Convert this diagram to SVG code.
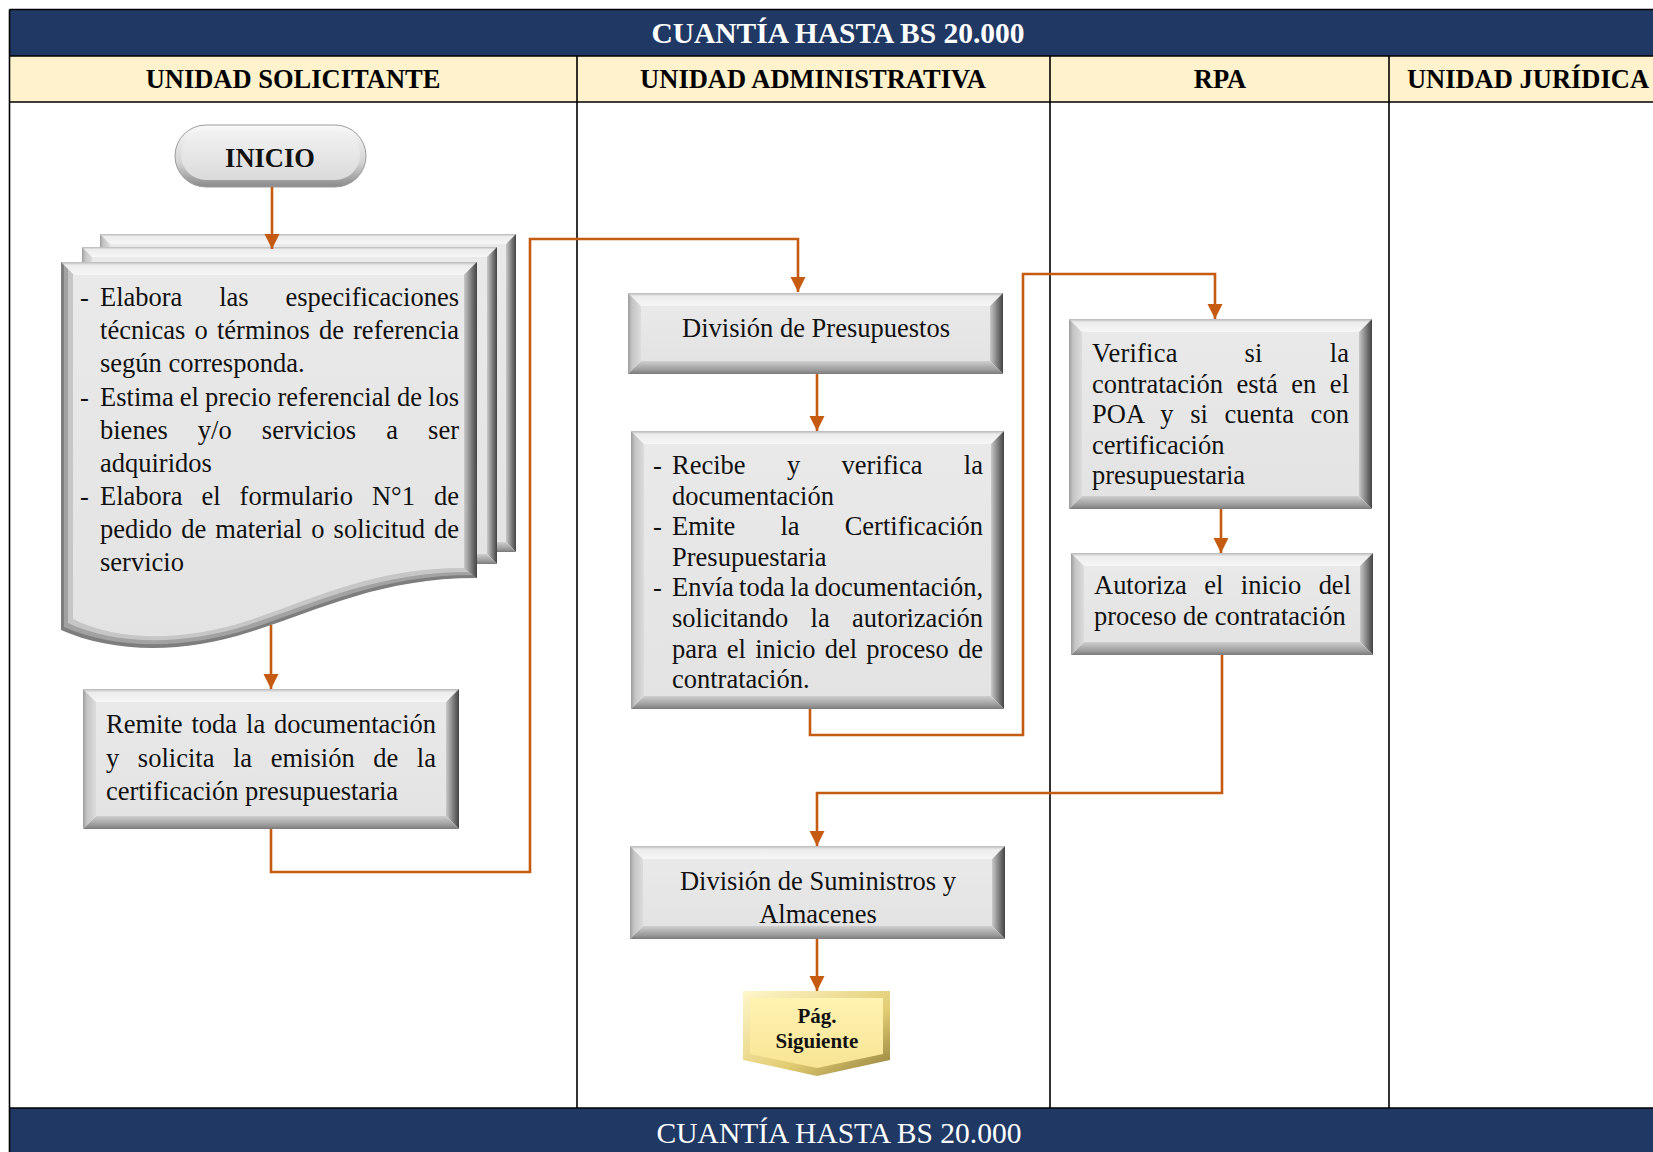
<svg xmlns="http://www.w3.org/2000/svg" width="1653" height="1152" viewBox="0 0 1653 1152">
<defs>
<style>
.grid{stroke:#000;stroke-width:1.6;fill:none}
.band{fill:#203864}
.hdr{fill:#FFF2CC}
.title{font-family:"Liberation Serif","Times New Roman",serif;font-size:29.5px;fill:#fff;text-anchor:middle}
.hl{font-family:"Liberation Serif","Times New Roman",serif;font-size:26.5px;font-weight:bold;fill:#000;text-anchor:middle}
.t{font-family:"Liberation Serif","Times New Roman",serif;font-size:26.5px;fill:#111}
.c{text-anchor:middle}
.b{font-weight:bold}
.conn{fill:none;stroke:#C55A11;stroke-width:2.6}
.top{fill:url(#gTop)}
.left{fill:url(#gLeft)}
.right{fill:url(#gRight)}
.bot{fill:url(#gBot)}
.face{fill:url(#gFace)}
</style>
<linearGradient id="gTop" x1="0" y1="0" x2="0" y2="1"><stop offset="0" stop-color="#b8b8b8"/><stop offset="0.25" stop-color="#ececec"/><stop offset="1" stop-color="#f6f6f6"/></linearGradient>
<linearGradient id="gLeft" x1="0" y1="0" x2="1" y2="0"><stop offset="0" stop-color="#9c9c9c"/><stop offset="0.3" stop-color="#c4c4c4"/><stop offset="1" stop-color="#dcdcdc"/></linearGradient>
<linearGradient id="gRight" x1="0" y1="0" x2="1" y2="0"><stop offset="0" stop-color="#c9c9c9"/><stop offset="0.7" stop-color="#6a6a6a"/><stop offset="1" stop-color="#444"/></linearGradient>
<linearGradient id="gBot" x1="0" y1="0" x2="0" y2="1"><stop offset="0" stop-color="#cfcfcf"/><stop offset="0.7" stop-color="#9a9a9a"/><stop offset="1" stop-color="#7a7a7a"/></linearGradient>
<linearGradient id="gFace" x1="0" y1="0" x2="0" y2="1"><stop offset="0" stop-color="#e9e9e9"/><stop offset="1" stop-color="#e3e3e3"/></linearGradient>
<linearGradient id="gPill" x1="0" y1="0" x2="0" y2="1"><stop offset="0" stop-color="#fafafa"/><stop offset="0.6" stop-color="#d4d4d4"/><stop offset="1" stop-color="#8a8a8a"/></linearGradient>
<linearGradient id="gPillFace" x1="0" y1="0" x2="0" y2="1"><stop offset="0" stop-color="#f2f2f2"/><stop offset="1" stop-color="#dadada"/></linearGradient>
<linearGradient id="gYEdge" x1="0" y1="0" x2="1" y2="1"><stop offset="0" stop-color="#fff7cc"/><stop offset="0.6" stop-color="#e2cc72"/><stop offset="1" stop-color="#8f7d3a"/></linearGradient>
<linearGradient id="gYFace" x1="0" y1="0" x2="0" y2="1"><stop offset="0" stop-color="#fff3b2"/><stop offset="1" stop-color="#f8e493"/></linearGradient>
<marker id="arr" markerUnits="userSpaceOnUse" markerWidth="16" markerHeight="16" viewBox="0 0 16 16" refX="15" refY="8" orient="auto"><path d="M0,0.5 L15,8 L0,15.5 Z" fill="#C55A11"/></marker>
</defs>
<rect width="1653" height="1152" fill="#fff"/>

<g id="table">
<rect class="band" x="9.5" y="9.5" width="1650" height="46.5"/>
<rect class="hdr" x="9.5" y="56" width="1650" height="46"/>
<rect class="band" x="9.5" y="1108" width="1650" height="50"/>
<path class="grid" d="M9.5,9.5 H1660 M9.5,9.5 V1152 M9.5,56 H1660 M9.5,102 H1660 M9.5,1108 H1660 M577,56 V1108 M1050,56 V1108 M1389,56 V1108"/>
<text class="title b" x="838" y="43">CUANTÍA HASTA BS 20.000</text>
<text class="hl" x="293" y="88">UNIDAD SOLICITANTE</text>
<text class="hl" x="813" y="88">UNIDAD ADMINISTRATIVA</text>
<text class="hl" x="1220" y="88">RPA</text>
<text class="hl" x="1528" y="88">UNIDAD JURÍDICA</text>
<text class="title" x="839" y="1143">CUANTÍA HASTA BS 20.000</text>
</g>

<g id="inicio">
<rect x="175" y="125" width="191" height="62" rx="31" fill="url(#gPill)" stroke="#9c9c9c" stroke-width="1"/>
<rect x="181" y="130" width="179" height="50" rx="25" fill="url(#gPillFace)"/>
<text class="t b c" x="270" y="167">INICIO</text>
</g>

<g id="documentos">
<polygon class="top" points="100,234 516,234 506,244 110,244"/>
<polygon class="left" points="100,234 110,244 110,542 100,552"/>
<polygon class="right" points="516,234 516,552 506,542 506,244"/>
<polygon class="bot" points="100,552 516,552 506,542 110,542"/>
<rect class="face" x="110" y="244" width="396" height="298"/>
<polygon class="top" points="82,247 497,247 487,257 92,257"/>
<polygon class="left" points="82,247 92,257 92,554 82,564"/>
<polygon class="right" points="497,247 497,564 487,554 487,257"/>
<polygon class="bot" points="82,564 497,564 487,554 92,554"/>
<rect class="face" x="92" y="257" width="395" height="297"/>
<path d="M61,262 H477 V578 C380,578 320,610 250,632 C180,655 110,652 61,630 Z" fill="#7e7e7e"/>
<path d="M64,265 H474 V575 C378,575 318,607 249,629 C180,651 111,648 64,627 Z" fill="#a2a2a2"/>
<path d="M68,269 H470 V572 C376,572 316,603 248,625 C180,647 112,644 68,623 Z" fill="#c6c6c6"/>
<polygon class="top" points="61,262 477,262 464,275 74,275"/>
<polygon class="right" points="477,262 477,578 464,568 464,275"/>
<path class="face" d="M73,275 H464 V568 C372,568 314,599 247,621 C179,643 114,640 73,619 Z"/>
<text class="t" x="80" y="306">-</text>
<text class="t" x="100" y="306" word-spacing="30.3" textLength="359" lengthAdjust="spacing">Elabora las especificaciones</text>
<text class="t" x="100" y="339" word-spacing="2.5" textLength="359" lengthAdjust="spacing">técnicas o términos de referencia</text>
<text class="t" x="100" y="372">según corresponda.</text>
<text class="t" x="80" y="406">-</text>
<text class="t" x="100" y="406" word-spacing="-0.5" textLength="359" lengthAdjust="spacing">Estima el precio referencial de los</text>
<text class="t" x="100" y="439" word-spacing="23.5" textLength="359" lengthAdjust="spacing">bienes y/o servicios a ser</text>
<text class="t" x="100" y="472">adquiridos</text>
<text class="t" x="80" y="505">-</text>
<text class="t" x="100" y="505" word-spacing="12.4" textLength="359" lengthAdjust="spacing">Elabora el formulario N°1 de</text>
<text class="t" x="100" y="538" word-spacing="2.5" textLength="359" lengthAdjust="spacing">pedido de material o solicitud de</text>
<text class="t" x="100" y="571">servicio</text>
</g>

<g id="remite">
<polygon class="top" points="83,689 459,689 446,702 96,702"/>
<polygon class="left" points="83,689 96,702 96,816 83,829"/>
<polygon class="right" points="459,689 459,829 446,816 446,702"/>
<polygon class="bot" points="83,829 459,829 446,816 96,816"/>
<rect class="face" x="96" y="702" width="350" height="114"/>
<text class="t" x="106" y="733" word-spacing="2.3" textLength="330" lengthAdjust="spacing">Remite toda la documentación</text>
<text class="t" x="106" y="767" word-spacing="12" textLength="330" lengthAdjust="spacing">y solicita la emisión de la</text>
<text class="t" x="106" y="800">certificación presupuestaria</text>
</g>

<g id="div-presupuestos">
<polygon class="top" points="628,293 1003,293 990,306 641,306"/>
<polygon class="left" points="628,293 641,306 641,361 628,374"/>
<polygon class="right" points="1003,293 1003,374 990,361 990,306"/>
<polygon class="bot" points="628,374 1003,374 990,361 641,361"/>
<rect class="face" x="641" y="306" width="349" height="55"/>
<text class="t c" x="816" y="337">División de Presupuestos</text>
</g>

<g id="verifica-doc">
<polygon class="top" points="631,431 1004,431 991,444 644,444"/>
<polygon class="left" points="631,431 644,444 644,696 631,709"/>
<polygon class="right" points="1004,431 1004,709 991,696 991,444"/>
<polygon class="bot" points="631,709 1004,709 991,696 644,696"/>
<rect class="face" x="644" y="444" width="347" height="252"/>
<text class="t" x="653" y="474">-</text>
<text class="t" x="672" y="474" word-spacing="34.8" textLength="311" lengthAdjust="spacing">Recibe y verifica la</text>
<text class="t" x="672" y="504.5">documentación</text>
<text class="t" x="653" y="535">-</text>
<text class="t" x="672" y="535" word-spacing="38.5" textLength="311" lengthAdjust="spacing">Emite la Certificación</text>
<text class="t" x="672" y="565.5">Presupuestaria</text>
<text class="t" x="653" y="596">-</text>
<text class="t" x="672" y="596" word-spacing="-1.3" textLength="311" lengthAdjust="spacing">Envía toda la documentación,</text>
<text class="t" x="672" y="627" word-spacing="15.7" textLength="311" lengthAdjust="spacing">solicitando la autorización</text>
<text class="t" x="672" y="657.5" word-spacing="2.6" textLength="311" lengthAdjust="spacing">para el inicio del proceso de</text>
<text class="t" x="672" y="688">contratación.</text>
</g>

<g id="verifica-poa">
<polygon class="top" points="1069,319 1372,319 1359,332 1082,332"/>
<polygon class="left" points="1069,319 1082,332 1082,496 1069,509"/>
<polygon class="right" points="1372,319 1372,509 1359,496 1359,332"/>
<polygon class="bot" points="1069,509 1372,509 1359,496 1082,496"/>
<rect class="face" x="1082" y="332" width="277" height="164"/>
<text class="t" x="1092" y="362" word-spacing="60.1" textLength="257" lengthAdjust="spacing">Verifica si la</text>
<text class="t" x="1092" y="392.5" word-spacing="7" textLength="257" lengthAdjust="spacing">contratación está en el</text>
<text class="t" x="1092" y="423" word-spacing="9.8" textLength="257" lengthAdjust="spacing">POA y si cuenta con</text>
<text class="t" x="1092" y="453.5">certificación</text>
<text class="t" x="1092" y="484">presupuestaria</text>
</g>

<g id="autoriza">
<polygon class="top" points="1071,553 1373,553 1360,566 1084,566"/>
<polygon class="left" points="1071,553 1084,566 1084,642 1071,655"/>
<polygon class="right" points="1373,553 1373,655 1360,642 1360,566"/>
<polygon class="bot" points="1071,655 1373,655 1360,642 1084,642"/>
<rect class="face" x="1084" y="566" width="276" height="76"/>
<text class="t" x="1094" y="594" word-spacing="10.9" textLength="257" lengthAdjust="spacing">Autoriza el inicio del</text>
<text class="t" x="1094" y="625">proceso de contratación</text>
</g>

<g id="div-suministros">
<polygon class="top" points="630,846 1005,846 992,859 643,859"/>
<polygon class="left" points="630,846 643,859 643,926 630,939"/>
<polygon class="right" points="1005,846 1005,939 992,926 992,859"/>
<polygon class="bot" points="630,939 1005,939 992,926 643,926"/>
<rect class="face" x="643" y="859" width="349" height="67"/>
<text class="t c" x="818" y="890">División de Suministros y</text>
<text class="t c" x="818" y="923">Almacenes</text>
</g>

<g id="pag-siguiente">
<polygon points="743,991 890,991 890,1060 817,1076 743,1060" fill="url(#gYEdge)"/>
<polygon points="750,998 883,998 883,1054 817,1068 750,1054" fill="url(#gYFace)"/>
<text class="t b c" x="817" y="1023" style="font-size:21px">Pág.</text>
<text class="t b c" x="817" y="1048" style="font-size:21px">Siguiente</text>
</g>

<g id="connectors">
<path class="conn" d="M272,187 V249" marker-end="url(#arr)"/>
<path class="conn" d="M271,625 V689" marker-end="url(#arr)"/>
<path class="conn" d="M271,829 V872 H530 V239 H798 V292" marker-end="url(#arr)"/>
<path class="conn" d="M817,374 V431" marker-end="url(#arr)"/>
<path class="conn" d="M810,709 V735 H1023 V274 H1215 V319" marker-end="url(#arr)"/>
<path class="conn" d="M1221,509 V553" marker-end="url(#arr)"/>
<path class="conn" d="M1222,655 V793 H817 V846" marker-end="url(#arr)"/>
<path class="conn" d="M817,939 V991" marker-end="url(#arr)"/>
</g>
</svg>
